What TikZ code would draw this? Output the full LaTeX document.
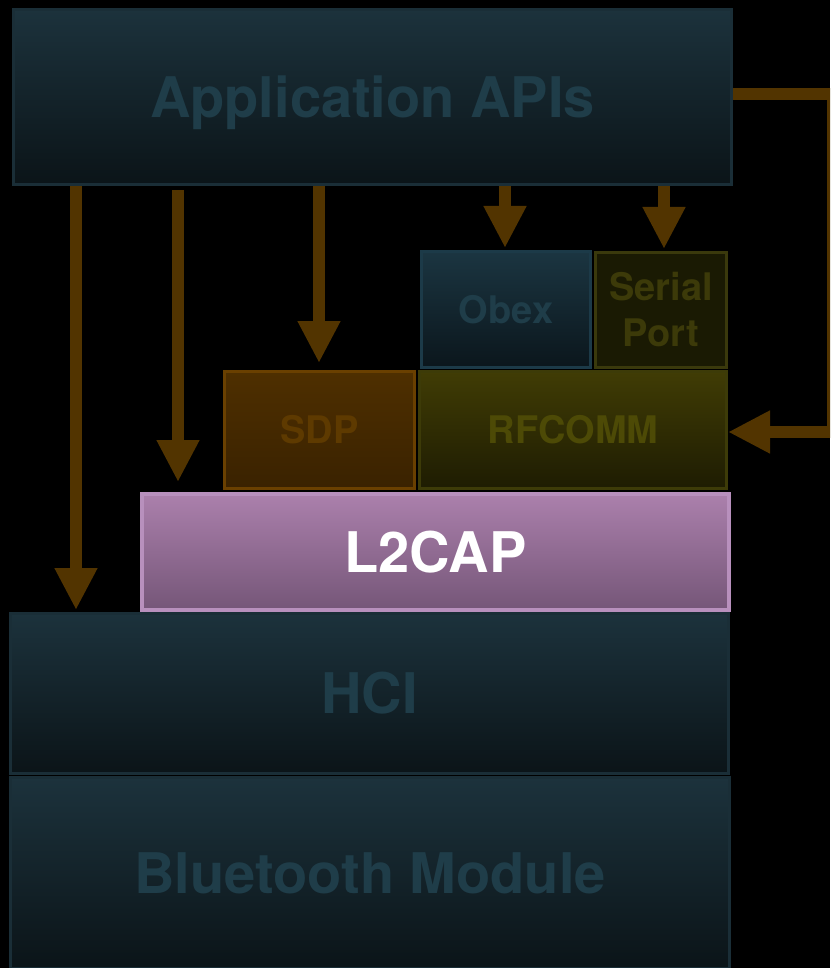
\documentclass[tikz,border=0pt]{standalone}
\usepackage{fontspec}
\setmainfont{TeX Gyre Heros}
\usetikzlibrary{arrows.meta}

\definecolor{tealtop}{RGB}{28,50,60}
\definecolor{tealbot}{RGB}{11,20,24}
\definecolor{tealedge}{RGB}{26,46,55}
\definecolor{tealtext}{RGB}{31,61,73}
\definecolor{obextop}{RGB}{27,53,65}
\definecolor{obexbot}{RGB}{11,22,28}
\definecolor{obexedge}{RGB}{28,58,72}
\definecolor{serialfill}{RGB}{26,26,3}
\definecolor{serialedge}{RGB}{58,57,12}
\definecolor{serialtext}{RGB}{60,58,9}
\definecolor{sdptop}{RGB}{78,47,0}
\definecolor{sdpbot}{RGB}{58,34,0}
\definecolor{sdpedge}{RGB}{106,64,0}
\definecolor{sdptext}{RGB}{94,58,0}
\definecolor{rftop}{RGB}{64,60,5}
\definecolor{rfbot}{RGB}{30,28,2}
\definecolor{rfedge}{RGB}{61,59,8}
\definecolor{rftext}{RGB}{77,74,6}
\definecolor{l2top}{RGB}{171,128,172}
\definecolor{l2bot}{RGB}{117,86,120}
\definecolor{l2edge}{RGB}{184,144,189}
\definecolor{arrowbrown}{RGB}{82,52,0}

\begin{document}
\begin{tikzpicture}[x=1pt,y=-1pt,
  layer/.style={rectangle,draw,line width=3pt,inner sep=0pt,font=\bfseries\fontsize{56}{60}\selectfont},
  small layer/.style={layer,font=\bfseries\fontsize{38}{46}\selectfont,align=center},
  teal node/.style={top color=tealtop,bottom color=tealbot,draw=tealedge,text=tealtext},
  obex node/.style={top color=obextop,bottom color=obexbot,draw=obexedge,text=tealtext},
  serial node/.style={fill=serialfill,draw=serialedge,text=serialtext},
  sdp node/.style={top color=sdptop,bottom color=sdpbot,draw=sdpedge,text=sdptext},
  rf node/.style={top color=rftop,bottom color=rfbot,draw=rfedge,text=rftext},
  l2 node/.style={top color=l2top,bottom color=l2bot,draw=l2edge,text=white,line width=4pt},
  trans/.style={draw=arrowbrown,line width=12pt,line join=miter,-{Triangle[width=40pt,length=42pt]}}]

  \useasboundingbox (0,0) rectangle (830,968);
  \clip (0,0) rectangle (830,968);
  \fill[black] (0,0) rectangle (830,968);

  \node[layer,teal node,text depth=0pt,minimum width=718pt,minimum height=175pt] (1) at (372.5,97)  {Application APIs};
  \node[small layer,obex node,minimum width=169pt,minimum height=116pt]   (2) at (506,309.5) {Obex};
  \node[small layer,serial node,minimum width=131pt,minimum height=115pt] (3) at (661,310)   {Serial\\Port};
  \node[small layer,sdp node,minimum width=190pt,minimum height=117pt]    (4) at (319.5,430) {SDP};
  \node[small layer,rf node,minimum width=307pt,minimum height=117pt]     (5) at (573,430)   {RFCOMM};
  \node[layer,l2 node,minimum width=587pt,minimum height=116pt]           (6) at (435.5,552) {L2CAP};
  \node[layer,teal node,minimum width=718pt,minimum height=160pt]         (7) at (369.5,693.5) {HCI};
  \node[layer,teal node,minimum width=719pt,minimum height=191pt]         (8) at (370,873)   {Bluetooth Module};

  \draw[trans,shorten >=2pt]                (76,0 |- 1.south)  -- (76,0 |- 7.north);
  \draw[trans,shorten <=4pt,shorten >=10pt] (178,0 |- 1.south) -- (178,0 |- 6.north);
  \draw[trans,shorten >=7pt]                (319,0 |- 1.south) -- (319,0 |- 4.north);
  \draw[trans,shorten >=2pt]                (505,0 |- 1.south) -- (505,0 |- 2.north);
  \draw[trans,shorten >=2pt]                (664,0 |- 1.south) -- (664,0 |- 3.north);
  \draw[trans] ([yshift=3pt]1.east) -- ++(100,0) |- ([yshift=-2pt]5.east);
\end{tikzpicture}
\end{document}
